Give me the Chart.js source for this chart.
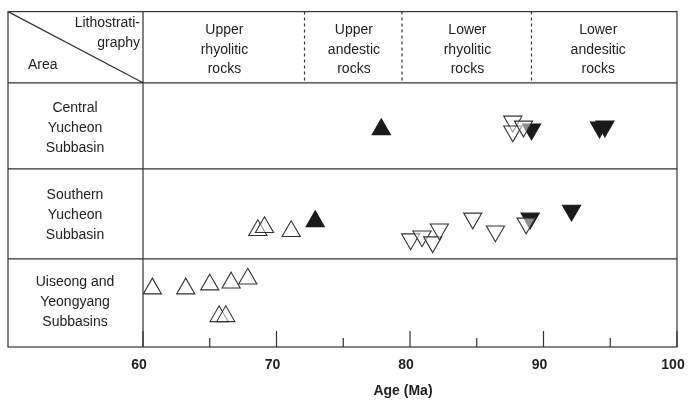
<!DOCTYPE html>
<html>
<head>
<meta charset="utf-8">
<script src="https://cdn.jsdelivr.net/npm/chart.js@4"></script>
<style>
  body { margin: 0; background: #fff; }
  #wrap { width: 696px; height: 407px; }
</style>
</head>
<body>
<div id="wrap"><canvas id="c"></canvas></div>
<script>
// x = age (Ma), y = vertical position inside the figure (px above the axis line)
const openUp = [
  [68.6, 118], [69.1, 121], [71.1, 117],
  [60.7, 59], [63.2, 59], [65.0, 63], [66.6, 65], [67.85, 69], [65.7, 31], [66.2, 31]
];
const filledUp = [[77.85, 220], [72.9, 127]];
const openDown = [
  [87.7, 228], [87.7, 218], [88.5, 223],
  [80.05, 109], [80.9, 112], [81.7, 106], [82.2, 119], [84.7, 130], [86.4, 117], [88.7, 125]
];
const filledDown = [[89.1, 220], [94.2, 222], [94.6, 223], [89.0, 130], [92.1, 138]];

const xTicks = [60, 70, 80, 90, 100];
const minorTicks = [65, 75, 85, 95];
const rowLines = [267, 180, 89];       // row boundaries (y values)
const unitBreaks = [72.1, 79.4, 89.1]; // dashed lines between rock units
const units = [
  { x: 66.1, lines: ["Upper", "rhyolitic", "rocks"] },
  { x: 75.8, lines: ["Upper", "andestic", "rocks"] },
  { x: 84.3, lines: ["Lower", "rhyolitic", "rocks"] },
  { x: 94.1, lines: ["Lower", "andesitic", "rocks"] }
];
const areas = [
  { y: 221, lines: ["Central", "Yucheon", "Subbasin"] },
  { y: 133, lines: ["Southern", "Yucheon", "Subbasin"] },
  { y: 45, lines: ["Uiseong and", "Yeongyang", "Subbasins"] }
];

function toPts(arr) {
  return arr.map(([x, y]) => ({ x: x, y: y }));
}

const framePlugin = {
  id: "frame",
  afterDatasetsDraw(chart) {
    const ctx = chart.ctx;
    const xs = chart.scales.x, ys = chart.scales.y;
    const ca = chart.chartArea;
    const L = 8;
    const headerY = ys.getPixelForValue(rowLines[0]);
    ctx.save();
    ctx.strokeStyle = "#333";
    ctx.lineWidth = 1.2;
    ctx.strokeRect(L, ca.top, ca.right - L, ca.bottom - ca.top);
    ctx.beginPath();
    ctx.moveTo(ca.left, ca.top);
    ctx.lineTo(ca.left, ca.bottom);
    rowLines.forEach((v) => {
      const y = ys.getPixelForValue(v);
      ctx.moveTo(L, y);
      ctx.lineTo(ca.right, y);
    });
    // diagonal in header cell
    ctx.moveTo(L, ca.top);
    ctx.lineTo(ca.left, headerY);
    ctx.stroke();

    // dashed unit breaks in header
    ctx.setLineDash([3, 3]);
    ctx.beginPath();
    unitBreaks.forEach((v) => {
      const x = xs.getPixelForValue(v);
      ctx.moveTo(x, ca.top);
      ctx.lineTo(x, headerY);
    });
    ctx.stroke();
    ctx.setLineDash([]);

    // ticks pointing inward
    ctx.beginPath();
    xTicks.forEach((v) => {
      const x = xs.getPixelForValue(v);
      ctx.moveTo(x, ca.bottom);
      ctx.lineTo(x, ca.bottom - 16);
    });
    minorTicks.forEach((v) => {
      const x = xs.getPixelForValue(v);
      ctx.moveTo(x, ca.bottom);
      ctx.lineTo(x, ca.bottom - 9);
    });
    ctx.stroke();

    ctx.fillStyle = "#222";
    ctx.textAlign = "center";
    ctx.textBaseline = "middle";
    ctx.font = "bold 14px 'Liberation Sans', Arial, sans-serif";
    xTicks.forEach((v) => {
      ctx.fillText(String(v), xs.getPixelForValue(v) - 4, ca.bottom + 18);
    });
    ctx.fillText("Age (Ma)", 403, ca.bottom + 44);

    ctx.font = "14px 'Liberation Sans', Arial, sans-serif";
    units.forEach((u) => {
      u.lines.forEach((t, i) => {
        ctx.fillText(t, xs.getPixelForValue(u.x), ca.top + 19 + i * 19.5);
      });
    });
    areas.forEach((a) => {
      a.lines.forEach((t, i) => {
        ctx.fillText(t, 75, ys.getPixelForValue(a.y) + (i - 1) * 20);
      });
    });
    ctx.textAlign = "right";
    ctx.fillText("Lithostrati-", 140, ca.top + 12);
    ctx.fillText("graphy", 140, ca.top + 32);
    ctx.textAlign = "left";
    ctx.fillText("Area", 28, ca.top + 54);
    ctx.restore();
  }
};

const common = { pointRadius: 10.5, pointBorderWidth: 1.1, showLine: false, borderColor: "#333", pointStyle: "triangle" };

new Chart(document.getElementById("c"), {
  type: "scatter",
  data: {
    datasets: [
      { ...common, data: toPts(openUp), backgroundColor: "rgba(255,255,255,0.5)", pointRotation: 0 },
      { ...common, data: toPts(filledUp), backgroundColor: "#1a1a1a", borderColor: "#1a1a1a", pointRotation: 0 },
      { ...common, data: toPts(openDown), backgroundColor: "rgba(255,255,255,0.5)", pointRotation: 180 },
      { ...common, data: toPts(filledDown), backgroundColor: "#1a1a1a", borderColor: "#1a1a1a", pointRotation: 180 }
    ]
  },
  options: {
    responsive: true,
    maintainAspectRatio: false,
    animation: false,
    layout: { padding: { left: 143, right: 19, top: 8, bottom: 60 } },
    plugins: { legend: { display: false }, tooltip: { enabled: false } },
    scales: {
      x: { type: "linear", display: false, min: 60, max: 100 },
      y: { type: "linear", display: false, min: 0, max: 339 }
    }
  },
  plugins: [framePlugin]
});
</script>
</body>
</html>
